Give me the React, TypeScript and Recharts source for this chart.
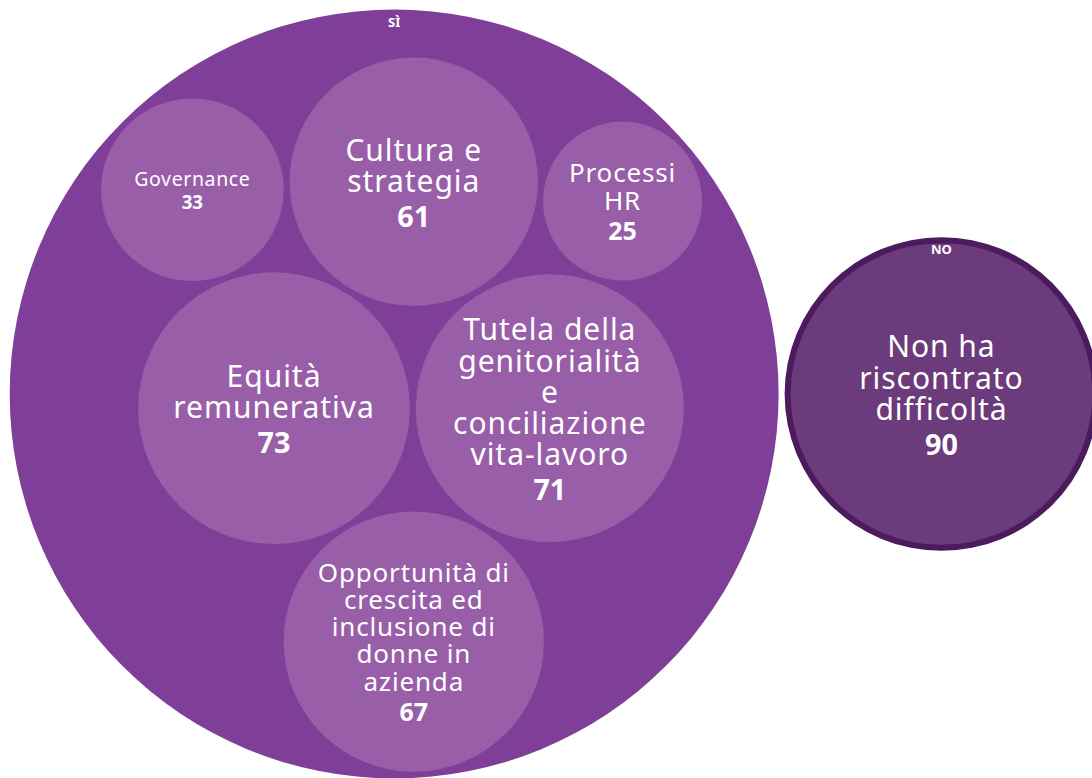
import React from 'react';
import { ScatterChart, Scatter, XAxis, YAxis } from 'recharts';

// ---------- data ----------
const groups = ['SÌ', 'NO'];
const categories = [
  'Equità remunerativa',
  'Tutela della genitorialità e conciliazione vita-lavoro',
  'Opportunità di crescita ed inclusione di donne in azienda',
  'Cultura e strategia',
  'Governance',
  'Processi HR',
  'Non ha riscontrato difficoltà',
];
const categoryGroup = ['SÌ', 'SÌ', 'SÌ', 'SÌ', 'SÌ', 'SÌ', 'NO'];
const values = [73, 71, 67, 61, 33, 25, 90];
const labelLines = [
  ['Equità', 'remunerativa'],
  ['Tutela della', 'genitorialità', 'e', 'conciliazione', 'vita-lavoro'],
  ['Opportunità di', 'crescita ed', 'inclusione di', 'donne in', 'azienda'],
  ['Cultura e', 'strategia'],
  ['Governance'],
  ['Processi', 'HR'],
  ['Non ha', 'riscontrato', 'difficoltà'],
];

// ---------- styles / layout config ----------
const W = 1092;
const H = 778;
const K = 15.9; // px per sqrt(value)
const PAD = 3;
const ROOT_CX = 554;
const ROOT_CY = 394;
const FONT = '"Noto Sans", "Open Sans", sans-serif';
const groupFill: Record<string, string> = { 'SÌ': '#7f3f98', NO: '#4b1b5e' };
const leafFill: Record<string, string> = { 'SÌ': '#985ea8', NO: '#6b3b7b' };
const labelSize: Record<string, number> = {
  'Equità remunerativa': 30,
  'Tutela della genitorialità e conciliazione vita-lavoro': 30,
  'Opportunità di crescita ed inclusione di donne in azienda': 26,
  'Cultura e strategia': 30,
  Governance: 19.5,
  'Processi HR': 26,
  'Non ha riscontrato difficoltà': 30,
};

// ---------- circle packing (d3-hierarchy algorithm) ----------
type Circ = { x: number; y: number; r: number; [k: string]: any };
type CNode = { _: Circ; next: CNode | null; previous: CNode | null };

function place(b: Circ, a: Circ, c: Circ) {
  const dx = b.x - a.x;
  const dy = b.y - a.y;
  const d2 = dx * dx + dy * dy;
  if (d2) {
    let a2 = a.r + c.r;
    a2 *= a2;
    let b2 = b.r + c.r;
    b2 *= b2;
    if (a2 > b2) {
      const x = (d2 + b2 - a2) / (2 * d2);
      const y = Math.sqrt(Math.max(0, b2 / d2 - x * x));
      c.x = b.x - x * dx - y * dy;
      c.y = b.y - x * dy + y * dx;
    } else {
      const x = (d2 + a2 - b2) / (2 * d2);
      const y = Math.sqrt(Math.max(0, a2 / d2 - x * x));
      c.x = a.x + x * dx - y * dy;
      c.y = a.y + x * dy + y * dx;
    }
  } else {
    c.x = a.x + c.r;
    c.y = a.y;
  }
}
function intersects(a: Circ, b: Circ) {
  const dr = a.r + b.r - 1e-6;
  const dx = b.x - a.x;
  const dy = b.y - a.y;
  return dr > 0 && dr * dr > dx * dx + dy * dy;
}
function score(node: CNode) {
  const a = node._;
  const b = (node.next as CNode)._;
  const ab = a.r + b.r;
  const dx = (a.x * b.r + b.x * a.r) / ab;
  const dy = (a.y * b.r + b.y * a.r) / ab;
  return dx * dx + dy * dy;
}
function mk(c: Circ): CNode {
  return { _: c, next: null, previous: null };
}
function enclosesNot(a: Circ, b: Circ) {
  const dr = a.r - b.r, dx = b.x - a.x, dy = b.y - a.y;
  return dr < 0 || dr * dr < dx * dx + dy * dy;
}
function enclosesWeak(a: Circ, b: Circ) {
  const dr = a.r - b.r + Math.max(a.r, b.r, 1) * 1e-9, dx = b.x - a.x, dy = b.y - a.y;
  return dr > 0 && dr * dr > dx * dx + dy * dy;
}
function enclosesWeakAll(a: Circ, B: Circ[]) {
  for (const b of B) if (!enclosesWeak(a, b)) return false;
  return true;
}
function eb1(a: Circ): Circ {
  return { x: a.x, y: a.y, r: a.r };
}
function eb2(a: Circ, b: Circ): Circ {
  const x21 = b.x - a.x, y21 = b.y - a.y, r21 = b.r - a.r;
  const l = Math.sqrt(x21 * x21 + y21 * y21);
  return { x: (a.x + b.x + (x21 / l) * r21) / 2, y: (a.y + b.y + (y21 / l) * r21) / 2, r: (l + a.r + b.r) / 2 };
}
function eb3(a: Circ, b: Circ, c: Circ): Circ {
  const x1 = a.x, y1 = a.y, r1 = a.r, x2 = b.x, y2 = b.y, r2 = b.r, x3 = c.x, y3 = c.y, r3 = c.r;
  const a2 = x1 - x2, a3 = x1 - x3, b2 = y1 - y2, b3 = y1 - y3, c2 = r2 - r1, c3 = r3 - r1;
  const d1 = x1 * x1 + y1 * y1 - r1 * r1;
  const d2 = d1 - x2 * x2 - y2 * y2 + r2 * r2;
  const d3 = d1 - x3 * x3 - y3 * y3 + r3 * r3;
  const ab = a3 * b2 - a2 * b3;
  const xa = (b2 * d3 - b3 * d2) / (ab * 2) - x1;
  const xb = (b3 * c2 - b2 * c3) / ab;
  const ya = (a3 * d2 - a2 * d3) / (ab * 2) - y1;
  const yb = (a2 * c3 - a3 * c2) / ab;
  const A = xb * xb + yb * yb - 1;
  const Bq = 2 * (r1 + xa * xb + ya * yb);
  const C = xa * xa + ya * ya - r1 * r1;
  const r = -(Math.abs(A) > 1e-6 ? (Bq + Math.sqrt(Bq * Bq - 4 * A * C)) / (2 * A) : C / Bq);
  return { x: x1 + xa + xb * r, y: y1 + ya + yb * r, r };
}
function encloseBasis(B: Circ[]): Circ {
  if (B.length === 1) return eb1(B[0]);
  if (B.length === 2) return eb2(B[0], B[1]);
  return eb3(B[0], B[1], B[2]);
}
function extendBasis(B: Circ[], p: Circ): Circ[] {
  if (enclosesWeakAll(p, B)) return [p];
  for (let i = 0; i < B.length; ++i) {
    if (enclosesNot(p, B[i]) && enclosesWeakAll(eb2(B[i], p), B)) return [B[i], p];
  }
  for (let i = 0; i < B.length - 1; ++i) {
    for (let j = i + 1; j < B.length; ++j) {
      if (
        enclosesNot(eb2(B[i], B[j]), p) &&
        enclosesNot(eb2(B[i], p), B[j]) &&
        enclosesNot(eb2(B[j], p), B[i]) &&
        enclosesWeakAll(eb3(B[i], B[j], p), B)
      )
        return [B[i], B[j], p];
    }
  }
  return [p];
}
function enclose(circles: Circ[]): Circ {
  let i = 0;
  const n = circles.length;
  let B: Circ[] = [];
  let e: Circ | null = null;
  let guard = 0;
  while (i < n && guard++ < 10000) {
    const p = circles[i];
    if (e && enclosesWeak(e, p)) ++i;
    else {
      B = extendBasis(B, p);
      e = encloseBasis(B);
      i = 0;
    }
  }
  return e as Circ;
}
function packSiblings(circles: Circ[]): number {
  const n = circles.length;
  if (!n) return 0;
  let a: any = circles[0];
  a.x = 0;
  a.y = 0;
  if (!(n > 1)) return a.r;
  let b: any = circles[1];
  a.x = -b.r;
  b.x = a.r;
  b.y = 0;
  if (!(n > 2)) return a.r + b.r;
  let c: any = circles[2];
  place(b, a, c);
  a = mk(a);
  b = mk(b);
  c = mk(c);
  a.next = c.previous = b;
  b.next = a.previous = c;
  c.next = b.previous = a;
  pack: for (let i = 3; i < n; ++i) {
    place(a._, b._, circles[i]);
    c = mk(circles[i]);
    let j = b.next, k = a.previous, sj = b._.r, sk = a._.r;
    do {
      if (sj <= sk) {
        if (intersects(j._, c._)) {
          b = j;
          a.next = b;
          b.previous = a;
          --i;
          continue pack;
        }
        sj += j._.r;
        j = j.next;
      } else {
        if (intersects(k._, c._)) {
          a = k;
          a.next = b;
          b.previous = a;
          --i;
          continue pack;
        }
        sk += k._.r;
        k = k.previous;
      }
    } while (j !== k.next);
    c.previous = a;
    c.next = b;
    a.next = b.previous = b = c;
    let aa = score(a);
    let cc = c;
    while ((cc = cc.next) !== b) {
      const ca = score(cc);
      if (ca < aa) {
        a = cc;
        aa = ca;
      }
    }
    b = a.next;
  }
  const front: Circ[] = [b._];
  let cc = b;
  while ((cc = cc.next) !== b) front.push(cc._);
  const e = enclose(front);
  for (let i = 0; i < n; ++i) {
    circles[i].x -= e.x;
    circles[i].y -= e.y;
  }
  return e.r;
}

function buildLayout() {
  const groupNodes: Circ[] = groups.map((g) => {
    const kids: Circ[] = categories
      .map((name, i) => ({ name, idx: i, value: values[i], group: categoryGroup[i], x: 0, y: 0, r: 0 }))
      .filter((d) => d.group === g)
      .sort((p, q) => q.value - p.value)
      .map((d) => ({ ...d, r: K * Math.sqrt(d.value) }));
    kids.forEach((k) => (k.r += PAD));
    const e = packSiblings(kids);
    kids.forEach((k) => (k.r -= PAD));
    const total = kids.reduce((s, k) => s + k.value, 0);
    return { name: g, group: g, value: total, x: 0, y: 0, r: e + PAD, children: kids };
  });
  groupNodes.sort((p, q) => q.value - p.value);
  groupNodes.forEach((g) => (g.r += PAD));
  packSiblings(groupNodes);
  groupNodes.forEach((g) => (g.r -= PAD));
  const leaves: Circ[] = [];
  groupNodes.forEach((g) => {
    g.x += ROOT_CX;
    g.y += ROOT_CY;
    g.children.forEach((k: Circ) => {
      k.x += g.x;
      k.y += g.y;
      leaves.push(k);
    });
  });
  return { groupNodes, leaves };
}

const { groupNodes, leaves } = buildLayout();

const GroupShape = (props: any) => {
  const { cx, cy, payload } = props;
  return <circle cx={cx} cy={cy} r={payload.r} fill={groupFill[payload.group]} />;
};

const GroupLabel = (props: any) => {
  const { cx, cy, payload } = props;
  return (
    <text
      x={cx}
      y={cy - payload.r + 12}
      textAnchor="middle"
      dominantBaseline="central"
      fill="#ffffff"
      fontFamily={FONT}
      fontWeight={700}
      fontSize={13}
    >
      {payload.name}
    </text>
  );
};

const LeafShape = (props: any) => {
  const { cx, cy, payload } = props;
  const fs = labelSize[payload.name] || 24;
  const lines: string[] = labelLines[payload.idx];
  const lh = fs * 1.04;
  const numGap = fs * 1.16;
  const total = (lines.length - 1) * lh + numGap;
  const start = cy - total / 2;
  return (
    <g>
      <circle cx={cx} cy={cy} r={payload.r} fill={leafFill[payload.group]} />
      <text
        x={cx}
        y={start}
        textAnchor="middle"
        dominantBaseline="central"
        fill="#ffffff"
        fontFamily={FONT}
        fontSize={fs}
      >
        {lines.map((t, i) => (
          <tspan key={i} x={cx} y={start + i * lh} letterSpacing={fs * 0.032}>
            {t}
          </tspan>
        ))}
        <tspan
          x={cx}
          y={start + (lines.length - 1) * lh + numGap}
          fontWeight={700}
          fontSize={fs * 0.96}
        >
          {payload.value}
        </tspan>
      </text>
    </g>
  );
};

export default function App() {
  return (
    <div style={{ position: 'absolute', left: 0, top: 0, width: W, height: H, overflow: 'hidden' }}>
      <ScatterChart width={W} height={H} margin={{ top: 0, right: 0, bottom: 0, left: 0 }}>
        <XAxis type="number" dataKey="x" domain={[0, W]} hide allowDataOverflow />
        <YAxis type="number" dataKey="y" domain={[0, H]} reversed hide allowDataOverflow />
        <Scatter data={groupNodes} shape={GroupShape} isAnimationActive={false} />
        <Scatter data={leaves} shape={LeafShape} isAnimationActive={false} />
        <Scatter data={groupNodes} shape={GroupLabel} isAnimationActive={false} />
      </ScatterChart>
    </div>
  );
}
